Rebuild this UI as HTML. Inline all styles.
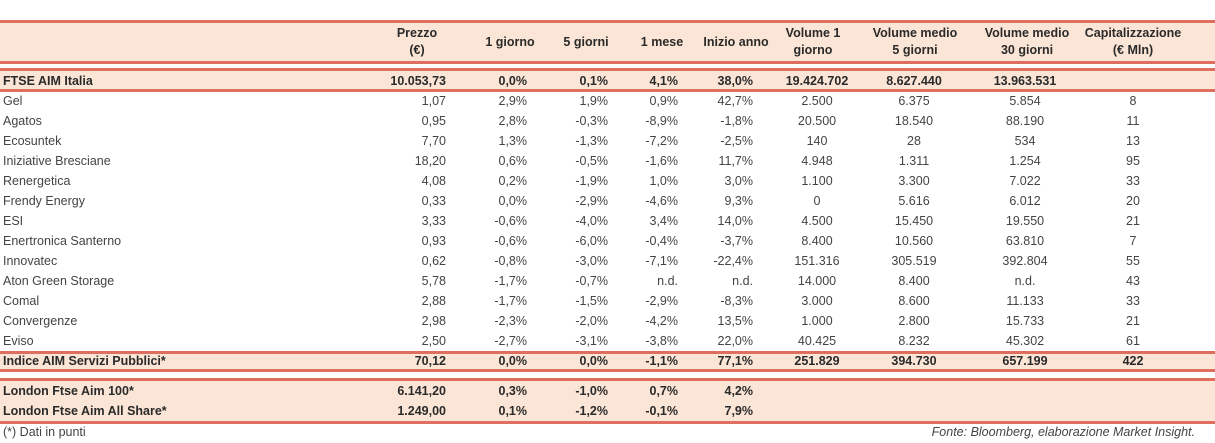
<!DOCTYPE html>
<html><head><meta charset="utf-8"><style>
body{margin:0;width:1215px;height:443px;background:#fff;position:relative;overflow:hidden;font-family:"Liberation Sans",sans-serif;color:#444;font-size:12.5px}
.band{position:absolute;left:0;width:1215px;background:#fbe5d6}
.line{position:absolute;left:0;width:1215px;height:3px;background:#df6e5f}
.c{position:absolute;white-space:nowrap;line-height:14px}
.h{font-weight:bold;text-align:center;line-height:17px;color:#2a2a2a}
.b{font-weight:bold;color:#2a2a2a}
</style></head><body>
<div class="band" style="top:21px;height:42px"></div>
<div class="band" style="top:70px;height:20px"></div>
<div class="band" style="top:353px;height:17px"></div>
<div class="band" style="top:380px;height:43px"></div>
<div class="line" style="top:20px"></div>
<div class="line" style="top:61px"></div>
<div class="line" style="top:68px"></div>
<div class="line" style="top:89px"></div>
<div class="line" style="top:351px"></div>
<div class="line" style="top:369px"></div>
<div class="line" style="top:378px"></div>
<div class="line" style="top:421px"></div>
<div class="c" style="left:3px;top:425px">(*) Dati in punti</div>
<div class="c" style="right:20px;top:425px;font-style:italic">Fonte: Bloomberg, elaborazione Market Insight.</div>
<script>
const headers=[["Prezzo","(€)"],["1 giorno"],["5 giorni"],["1 mese"],["Inizio anno"],["Volume 1","giorno"],["Volume medio","5 giorni"],["Volume medio","30 giorni"],["Capitalizzazione","(€ Mln)"]];
const headerCenters=[417,510,586,662,736,813,915,1027,1133];
const colPos=[446,527,608,678,753,817,914,1025,1133];
const colAlign=["r","r","r","r","r","c","c","c","c"];
const rows=[
["FTSE AIM Italia","10.053,73","0,0%","0,1%","4,1%","38,0%","19.424.702","8.627.440","13.963.531",""],
["Gel","1,07","2,9%","1,9%","0,9%","42,7%","2.500","6.375","5.854","8"],
["Agatos","0,95","2,8%","-0,3%","-8,9%","-1,8%","20.500","18.540","88.190","11"],
["Ecosuntek","7,70","1,3%","-1,3%","-7,2%","-2,5%","140","28","534","13"],
["Iniziative Bresciane","18,20","0,6%","-0,5%","-1,6%","11,7%","4.948","1.311","1.254","95"],
["Renergetica","4,08","0,2%","-1,9%","1,0%","3,0%","1.100","3.300","7.022","33"],
["Frendy Energy","0,33","0,0%","-2,9%","-4,6%","9,3%","0","5.616","6.012","20"],
["ESI","3,33","-0,6%","-4,0%","3,4%","14,0%","4.500","15.450","19.550","21"],
["Enertronica Santerno","0,93","-0,6%","-6,0%","-0,4%","-3,7%","8.400","10.560","63.810","7"],
["Innovatec","0,62","-0,8%","-3,0%","-7,1%","-22,4%","151.316","305.519","392.804","55"],
["Aton Green Storage","5,78","-1,7%","-0,7%","n.d.","n.d.","14.000","8.400","n.d.","43"],
["Comal","2,88","-1,7%","-1,5%","-2,9%","-8,3%","3.000","8.600","11.133","33"],
["Convergenze","2,98","-2,3%","-2,0%","-4,2%","13,5%","1.000","2.800","15.733","21"],
["Eviso","2,50","-2,7%","-3,1%","-3,8%","22,0%","40.425","8.232","45.302","61"],
["Indice AIM Servizi Pubblici*","70,12","0,0%","0,0%","-1,1%","77,1%","251.829","394.730","657.199","422"],
["London Ftse Aim 100*","6.141,20","0,3%","-1,0%","0,7%","4,2%","","","",""],
["London Ftse Aim All Share*","1.249,00","0,1%","-1,2%","-0,1%","7,9%","","","",""]];
const rowY=[81,101,121,141,161,181,201,221,241,261,281,301,321,341,361,391,411];
const boldRows=[0,14,15,16];
headers.forEach((h,i)=>{
  const d=document.createElement('div');
  d.className='c h';
  
  
  d.innerHTML=h.join('<br>');
  d.style.left=(headerCenters[i]-70)+'px';d.style.width='140px';
  d.style.top=(h.length>1?25:34)+'px';
  document.body.appendChild(d);
});
rows.forEach((r,ri)=>{
  r.forEach((v,ci)=>{
    if(v==='')return;
    const d=document.createElement('div');
    d.className='c'+(boldRows.includes(ri)?' b':'');
    
    
    d.textContent=v;
    d.style.top=(rowY[ri]-7)+'px';
    if(ci===0){d.style.left='3px';}
    else{const k=ci-1;
      if(colAlign[k]==='r'){d.style.right=(1215-colPos[k])+'px';}
      else{d.style.left=(colPos[k]-60)+'px';d.style.width='120px';d.style.textAlign='center';}}
    document.body.appendChild(d);
  });
});
</script>
</body></html>
